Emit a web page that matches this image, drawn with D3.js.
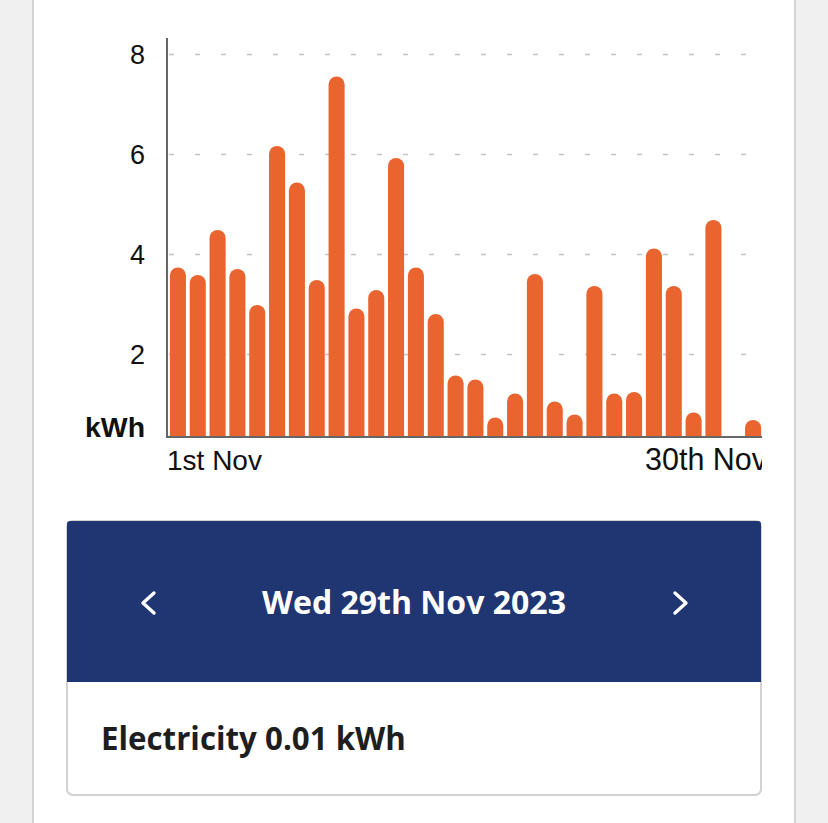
<!DOCTYPE html>
<html>
<head>
<meta charset="utf-8">
<script src="https://cdn.jsdelivr.net/npm/d3@7"></script>
<style>
html,body{margin:0;padding:0;background:#f0f0f0;}
svg{display:block;}
</style>
</head>
<body>
<svg id="chart" width="828" height="823"></svg>
<script>
const days = ["1","2","3","4","5","6","7","8","9","10","11","12","13","14","15","16","17","18","19","20","21","22","23","24","25","26","27","28","29","30"];
const values = [3.73,3.58,4.48,3.70,2.98,6.16,5.43,3.48,7.55,2.91,3.28,5.92,3.73,2.80,1.57,1.49,0.73,1.21,3.60,1.05,0.79,3.36,1.21,1.24,4.11,3.36,0.83,4.68,0.01,0.68];
const yTicks = [2,4,6,8];
const xLabels = [{day:"1", text:"1st Nov"},{day:"30", text:"30th Nov"}];
const unitLabel = "kWh";
const selectedDate = "Wed 29th Nov 2023";
const selectedText = "Electricity 0.01 kWh";

(function(){
const svg = d3.select("#chart");
const W = 828, H = 823;

function fitWidth(sel, target){
  const n = sel.node();
  const w = n.getComputedTextLength();
  const fs = parseFloat(sel.attr("font-size"));
  sel.attr("font-size", fs * target / w);
}

// page panel
svg.append("rect").attr("x",0).attr("y",0).attr("width",W).attr("height",H).attr("fill","#f0f0f0");
svg.append("rect").attr("x",34).attr("y",0).attr("width",760).attr("height",H).attr("fill","#ffffff");
svg.append("rect").attr("x",32).attr("y",0).attr("width",2).attr("height",H).attr("fill","#d4d4d4");
svg.append("rect").attr("x",794).attr("y",0).attr("width",2).attr("height",H).attr("fill","#d4d4d4");

const pl = 167, pr = 763, pt = 38, pb = 437;
const x = d3.scaleBand().domain(days).range([pl+1, pr]).paddingInner(0.19).paddingOuter(0.095);
const y = d3.scaleLinear().domain([0.34, 8.32]).range([pb, pt]);

const g = svg.append("g");

// gridlines
g.selectAll("line.grid").data(yTicks).join("line")
  .attr("class","grid")
  .attr("x1", pl+2).attr("x2", 749)
  .attr("y1", d=>Math.round(y(d))+0.5).attr("y2", d=>Math.round(y(d))+0.5)
  .attr("stroke","#c4c4c4").attr("stroke-width",1.6).attr("stroke-dasharray","5,21");

// bars
const bw = x.bandwidth(), r = bw/2;
g.selectAll("path.bar").data(values.map((v,i)=>({d:days[i], v})).filter(o=>y(o.v) < pb - 1))
  .join("path").attr("class","bar")
  .attr("fill","#e9642f")
  .attr("d", o=>{
    const x0 = x(o.d), t = y(o.v);
    const rr = Math.min(r, (pb - t));
    return `M${x0},${pb}V${t+rr}A${r},${rr} 0 0 1 ${x0+bw},${t+rr}V${pb}Z`;
  });

// axes lines
g.append("line").attr("x1",pl).attr("x2",pl).attr("y1",pt).attr("y2",pb+1)
  .attr("stroke","#666").attr("stroke-width",2);
g.append("line").attr("x1",pl).attr("x2",pr-1).attr("y1",pb).attr("y2",pb)
  .attr("stroke","#666").attr("stroke-width",2);

// y tick labels
const yAxis = d3.axisLeft(y).tickValues(yTicks).tickSize(0).tickPadding(0).tickFormat(d3.format("d"));
const ya = g.append("g").attr("transform",`translate(145,0)`).call(yAxis);
ya.select(".domain").remove();
ya.selectAll("text").attr("font-family","'Liberation Sans', Arial, sans-serif").attr("font-size",27).attr("fill","#111").attr("dy","0.36em");

const ku = g.append("text").attr("x",145).attr("y",437).attr("text-anchor","end")
  .attr("font-family","'Liberation Sans', Arial, sans-serif").attr("font-weight","bold").attr("font-size",26).attr("fill","#111")
  .text(unitLabel);
fitWidth(ku, 60);

// x labels
svg.append("clipPath").attr("id","xclip").append("rect").attr("x",0).attr("y",440).attr("width",pr - 1).attr("height",50);
const xl = g.append("g").attr("clip-path","url(#xclip)");
xl.selectAll("text").data(xLabels).join("text")
  .attr("x", (d,i)=> i===0 ? pl : 767)
  .attr("y", 470)
  .attr("text-anchor", (d,i)=> i===0 ? "start" : "end")
  .attr("font-family","'Liberation Sans', Arial, sans-serif").attr("font-size",26).attr("fill","#111")
  .text(d=>d.text)
  .each(function(d,i){ fitWidth(d3.select(this), i===0 ? 95 : 122); });

// card
const cx = 67, cy = 521, cw = 694, ch = 274, hh = 161;
svg.append("rect").attr("x",cx).attr("y",cy).attr("width",cw).attr("height",ch).attr("rx",6)
  .attr("fill","#fff").attr("stroke","#d2d2d2").attr("stroke-width",2);
svg.append("path").attr("fill","#1f3673")
  .attr("d",`M${cx},${cy+hh}V${cy+3}Q${cx},${cy} ${cx+3},${cy}H${cx+cw-3}Q${cx+cw},${cy} ${cx+cw},${cy+3}V${cy+hh}Z`);

const ht = svg.append("text").attr("x",414).attr("y",614).attr("text-anchor","middle")
  .attr("font-family","'Open Sans', Roboto, sans-serif").attr("font-weight","bold").attr("font-size",30).attr("fill","#fff")
  .text(selectedDate);
fitWidth(ht, 304);
svg.append("path").attr("d","M154,593L143,603L154,613").attr("fill","none").attr("stroke","#fff").attr("stroke-width",3.4).attr("stroke-linecap","round").attr("stroke-linejoin","round");
svg.append("path").attr("d","M675,593L686,603L675,613").attr("fill","none").attr("stroke","#fff").attr("stroke-width",3.4).attr("stroke-linecap","round").attr("stroke-linejoin","round");

const et = svg.append("text").attr("x",101).attr("y",750)
  .attr("font-family","'Open Sans', Roboto, sans-serif").attr("font-weight","bold").attr("font-size",28).attr("fill","#1e1e1e")
  .text(selectedText);
fitWidth(et, 305);
})();
</script>
</body>
</html>
